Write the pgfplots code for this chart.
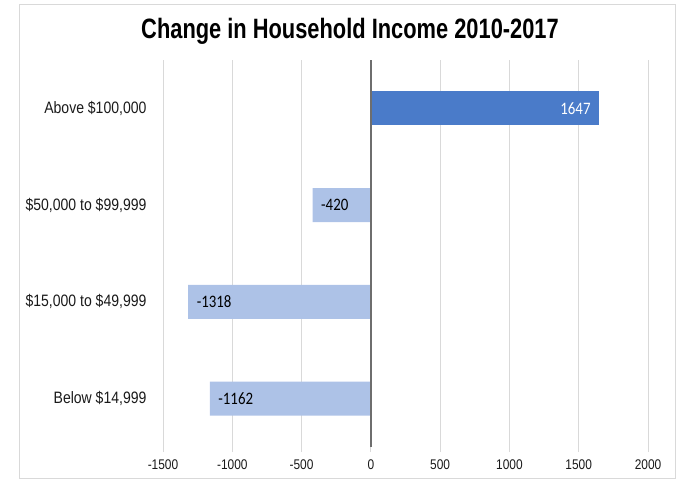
\documentclass[border=0pt]{standalone}
\usepackage{fontspec}
\setmainfont{Liberation Sans}[FakeStretch=0.85]
\newfontfamily\titlefont{Liberation Sans}[FakeStretch=0.78]
\newfontfamily\barfont{Carlito}[FakeStretch=0.85]
\usepackage{pgfplots}
\pgfplotsset{compat=1.18}

\definecolor{darkbar}{HTML}{4A7BC9}
\definecolor{lightbar}{HTML}{ADC2E7}
\definecolor{gridgray}{HTML}{D9D9D9}
\definecolor{zerogray}{HTML}{6E6E6E}
\definecolor{textgray}{HTML}{1A1A1A}

\begin{document}
\begin{tikzpicture}[x=1pt,y=1pt]
\useasboundingbox (0,0) rectangle (679,483);
\draw[gridgray, line width=1pt] (19,5) rectangle (675,478);
\node[font=\titlefont\bfseries\fontsize{28}{30}\selectfont] at (350,452) {Change in Household Income 2010-2017};

\begin{axis}[
    at={(163pt,36pt)}, anchor=south west,
    scale only axis,
    width=485pt, height=387pt,
    xbar, bar width=0.35, bar shift=0pt,
    xmin=-1500, xmax=2000,
    ymin=-0.5, ymax=3.5,
    axis line style={draw=none},
    xtick={-1500,-1000,-500,0,500,1000,1500,2000},
    xticklabels={{-1500},{-1000},{-500},0,500,1000,1500,2000},
    xtick pos=bottom,
    xtick align=outside,
    major tick length=5pt,
    xtick style={draw=gridgray, line width=1pt},
    ytick={0,1,2,3},
    yticklabels={{Below \$14,999}, {\$15,000 to \$49,999}, {\$50,000 to \$99,999}, {Above \$100,000}},
    ytick style={draw=none},
    xmajorgrids,
    grid style={draw=gridgray, line width=1pt},
    xticklabel style={font=\fontsize{14}{16}\selectfont, text=textgray, yshift=-4pt},
    yticklabel style={font=\fontsize{16.5}{18}\selectfont, text=textgray, xshift=-8pt},
    point meta=explicit symbolic,
    nodes near coords,
]
\addplot[fill=lightbar, draw=none,
    nodes near coords align={anchor=west, xshift=5pt},
    every node near coord/.append style={font=\barfont\fontsize{17.5}{19}\selectfont, text=black}]
    coordinates {(-1162,0) [-1162] (-1318,1) [-1318] (-420,2) [-420]};
\addplot[fill=darkbar, draw=none,
    nodes near coords align={anchor=east, xshift=-5pt},
    every node near coord/.append style={font=\barfont\fontsize{17.5}{19}\selectfont, text=white}]
    coordinates {(1647,3) [1647]};
\draw[zerogray, line width=1.4pt] (axis cs:0,-0.5) -- (axis cs:0,3.5);
\end{axis}
\end{tikzpicture}
\end{document}
